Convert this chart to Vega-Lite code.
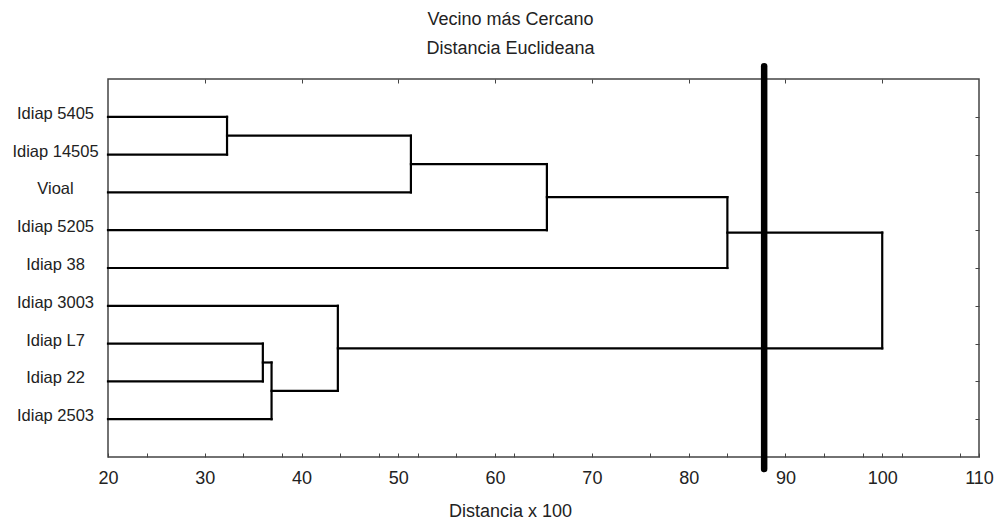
{
  "$schema": "https://vega.github.io/schema/vega-lite/v6.json",
  "width": 871,
  "height": 378,
  "autosize": "none",
  "padding": {"left": 108, "top": 79, "right": 19, "bottom": 63},
  "background": "white",
  "title": {
    "text": ["Vecino más Cercano", "Distancia Euclideana"],
    "fontSize": 18,
    "fontWeight": "normal",
    "font": "Liberation Sans",
    "color": "#222222",
    "lineHeight": 29,
    "baseline": "bottom",
    "offset": 20,
    "dx": -33,
    "dy": 33
  },
  "config": {
    "font": "Liberation Sans",
    "view": {"stroke": "#444444", "strokeWidth": 1.5},
    "axis": {"grid": false, "domain": false, "tickColor": "#444444", "tickWidth": 1}
  },
  "layer": [
    {
      "data": {
        "values": [
          {"x": 20, "x2": 32.3, "y": 1, "y2": 1},
          {"x": 20, "x2": 32.3, "y": 2, "y2": 2},
          {"x": 32.3, "x2": 32.3, "y": 1, "y2": 2},
          {"x": 32.3, "x2": 51.3, "y": 1.5, "y2": 1.5},
          {"x": 20, "x2": 51.3, "y": 3, "y2": 3},
          {"x": 51.3, "x2": 51.3, "y": 1.5, "y2": 3},
          {"x": 51.3, "x2": 65.35, "y": 2.25, "y2": 2.25},
          {"x": 20, "x2": 65.35, "y": 4, "y2": 4},
          {"x": 65.35, "x2": 65.35, "y": 2.25, "y2": 4},
          {"x": 65.35, "x2": 84.0, "y": 3.125, "y2": 3.125},
          {"x": 20, "x2": 84.0, "y": 5, "y2": 5},
          {"x": 84.0, "x2": 84.0, "y": 3.125, "y2": 5},
          {"x": 84.0, "x2": 100, "y": 4.0625, "y2": 4.0625},
          {"x": 20, "x2": 36.0, "y": 7, "y2": 7},
          {"x": 20, "x2": 36.0, "y": 8, "y2": 8},
          {"x": 36.0, "x2": 36.0, "y": 7, "y2": 8},
          {"x": 36.0, "x2": 36.9, "y": 7.5, "y2": 7.5},
          {"x": 20, "x2": 36.9, "y": 9, "y2": 9},
          {"x": 36.9, "x2": 36.9, "y": 7.5, "y2": 9},
          {"x": 36.9, "x2": 43.75, "y": 8.25, "y2": 8.25},
          {"x": 20, "x2": 43.75, "y": 6, "y2": 6},
          {"x": 43.75, "x2": 43.75, "y": 6, "y2": 8.25},
          {"x": 43.75, "x2": 100, "y": 7.125, "y2": 7.125},
          {"x": 100, "x2": 100, "y": 4.0625, "y2": 7.125}
        ]
      },
      "mark": {"type": "rule", "color": "black", "strokeWidth": 2.2, "strokeCap": "square"},
      "encoding": {
        "x": {
          "field": "x", "type": "quantitative",
          "scale": {"domain": [20, 110], "nice": false, "zero": false},
          "axis": {
            "orient": "bottom",
            "title": "Distancia x 100",
            "values": [20, 24, 30, 34, 38, 40, 44, 48, 50, 52, 56, 60, 62, 66, 70, 76, 80, 84, 90, 94, 98, 100, 102, 108, 110],
            "labelExpr": "datum.value % 10 == 0 ? datum.label : ''",
            "tickSize": -4,
            "labelPadding": 30.5,
            "labelBaseline": "alphabetic",
            "labelFontSize": 18,
            "labelColor": "#222222",
            "labelFlush": false,
            "labelOverlap": false,
            "titleFontSize": 18,
            "titleFontWeight": "normal",
            "titleColor": "#222222",
            "titleBaseline": "alphabetic",
            "titleX": 402,
            "titleY": 59
          }
        },
        "x2": {"field": "x2"},
        "y": {
          "field": "y", "type": "quantitative",
          "scale": {"domain": [0, 10], "nice": false, "zero": false, "reverse": true},
          "axis": {
            "orient": "left",
            "title": null,
            "values": [1, 2, 3, 4, 5, 6, 7, 8, 9],
            "labelExpr": "['Idiap 5405','Idiap 14505','Vioal','Idiap 5205','Idiap 38','Idiap 3003','Idiap L7','Idiap 22','Idiap 2503'][datum.value - 1]",
            "ticks": false,
            "tickSize": 0,
            "labelPadding": 53,
            "labelAlign": "center",
            "labelBaseline": "alphabetic",
            "labelOffset": 1.5,
            "labelFontSize": 16.5,
            "labelColor": "#222222",
            "labelFlush": false,
            "labelOverlap": false
          }
        },
        "y2": {"field": "y2"}
      }
    },
    {
      "data": {"values": [{"cut": 87.8, "top": -0.34, "bottom": 10.32}]},
      "mark": {"type": "rule", "color": "black", "strokeWidth": 6.5, "strokeCap": "round"},
      "encoding": {
        "x": {
          "field": "cut", "type": "quantitative",
          "axis": {
            "orient": "top",
            "title": null,
            "values": [30, 40, 50, 60, 70, 80, 90, 100],
            "labels": false,
            "tickSize": -4
          }
        },
        "y": {
          "field": "top", "type": "quantitative",
          "axis": {
            "orient": "right",
            "title": null,
            "values": [1, 2, 3, 4, 5, 6, 7, 8, 9],
            "labels": false,
            "tickSize": -4
          }
        },
        "y2": {"field": "bottom"}
      }
    }
  ],
  "resolve": {"axis": {"x": "independent", "y": "independent"}}
}
